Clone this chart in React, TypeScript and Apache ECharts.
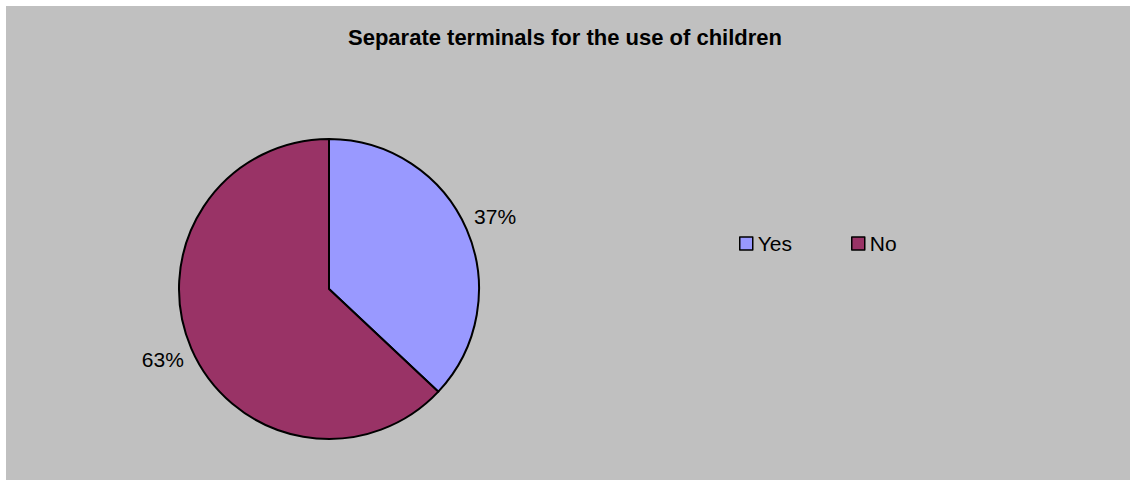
import React, { useEffect, useRef } from "react";
import * as echarts from "echarts";

const titleText = "Separate terminals for the use of children";
const categories = ["Yes", "No"];
const values = [37, 63];
const sliceColors = ["#9999ff", "#993366"];

const FONT = "Arial, 'Liberation Sans', sans-serif";

export default function App() {
  const ref = useRef<HTMLDivElement>(null);
  useEffect(() => {
    if (!ref.current) return;
    const chart = echarts.init(ref.current, undefined, { renderer: "svg" });
    const data = categories.map((name, i) => ({
      name,
      value: values[i],
      itemStyle: { color: sliceColors[i] },
    }));
    chart.setOption({
      animation: false,
      backgroundColor: "#ffffff",
      graphic: [
        {
          type: "rect",
          z: -10,
          silent: true,
          shape: { x: 6, y: 6, width: 1124, height: 474 },
          style: { fill: "#c0c0c0" },
        },
      ],
      title: {
        text: titleText,
        left: "center",
        top: 21,
        textStyle: { fontFamily: FONT, fontSize: 22, fontWeight: "bold", color: "#000" },
      },
      legend: {
        data: categories,
        left: 739,
        top: 233,
        padding: 0,
        itemWidth: 13,
        itemHeight: 13,
        itemGap: 59,
        icon: "rect",
        itemStyle: { borderColor: "#000", borderWidth: 1.5 },
        textStyle: { fontFamily: FONT, fontSize: 21, color: "#000" },
      },
      series: [
        {
          type: "pie",
          center: [329, 289],
          radius: 150,
          startAngle: 90,
          clockwise: true,
          data,
          label: { show: false },
          labelLine: { show: false },
          itemStyle: { borderColor: "#000", borderWidth: 2 },
          emphasis: { disabled: true },
        },
        {
          type: "pie",
          center: [329, 288],
          radius: [166, 190],
          startAngle: 90,
          clockwise: true,
          silent: true,
          legendHoverLink: false,
          data: categories.map((name, i) => ({ name, value: values[i] })),
          itemStyle: { color: "rgba(0,0,0,0)", borderWidth: 0 },
          label: {
            show: true,
            position: "inside",
            formatter: "{d}%",
            fontFamily: FONT,
            fontSize: 21,
            color: "#000",
          },
          labelLine: { show: false },
          emphasis: { disabled: true },
        },
      ],
    });
    return () => chart.dispose();
  }, []);
  return (
    <div
      ref={ref}
      style={{ position: "absolute", left: 0, top: 0, width: 1130, height: 480 }}
    />
  );
}
